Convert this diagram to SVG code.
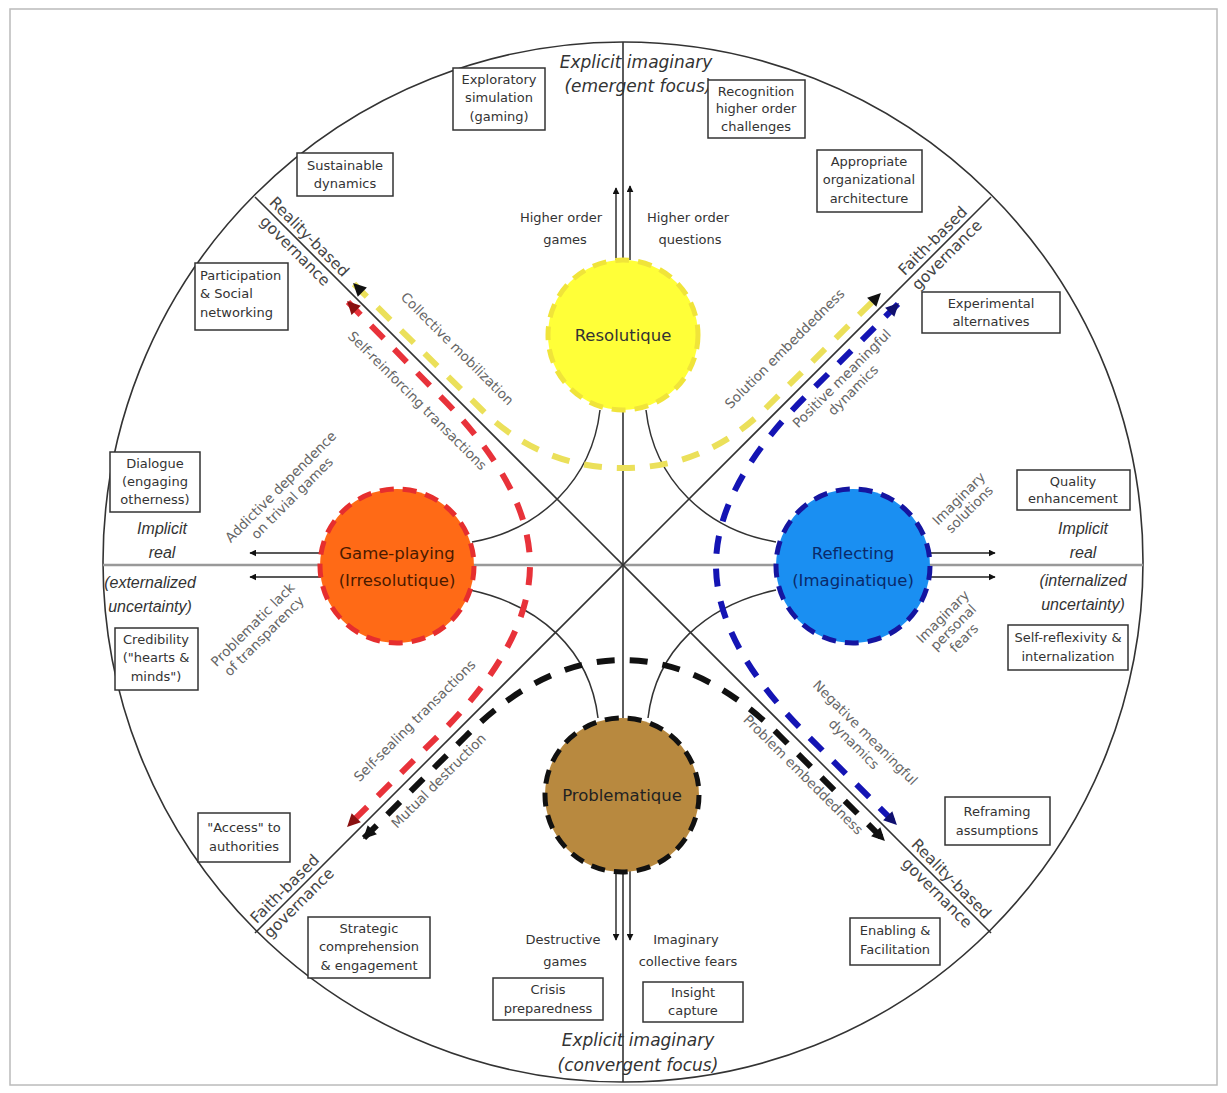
<svg xmlns="http://www.w3.org/2000/svg" width="1227" height="1093" viewBox="0 0 1227 1093">
<style>
.ax{stroke:#333;stroke-width:1.6;fill:none}
.hx{stroke:#999;stroke-width:2.6;fill:none}
.cv{stroke:#333;stroke-width:1.5;fill:none}
.sa{stroke:#222;stroke-width:1.4;fill:none}
.dy{stroke:#ebe05a;stroke-width:6;fill:none;stroke-dasharray:18 15}
.dr{stroke:#e8323a;stroke-width:6;fill:none;stroke-dasharray:18 15}
.db{stroke:#1414b4;stroke-width:6;fill:none;stroke-dasharray:18 15}
.dk{stroke:#111;stroke-width:6;fill:none;stroke-dasharray:18 15}
.box rect{fill:#fff;stroke:#333;stroke-width:1.5}
.box text,.bt{font-family:"DejaVu Sans","Liberation Sans",sans-serif;font-size:13px;fill:#333;text-anchor:middle}
.it{font-family:"Liberation Sans",Arial,sans-serif;font-style:italic;font-size:16px;fill:#333;text-anchor:middle}
.ex{font-family:"DejaVu Sans","Liberation Sans",sans-serif;font-style:italic;font-size:17px;fill:#333;text-anchor:middle}
.dg{font-family:"DejaVu Sans","Liberation Sans",sans-serif;font-size:15.5px;fill:#444;text-anchor:middle}
.al{font-family:"DejaVu Sans","Liberation Sans",sans-serif;font-size:13.5px;fill:#666;text-anchor:middle}
.nl{font-family:"DejaVu Sans","Liberation Sans",sans-serif;font-size:16.5px;text-anchor:middle}
</style>
<defs>
<marker id="mk" viewBox="0 0 10 10" refX="9" refY="5" markerWidth="14" markerHeight="13" markerUnits="userSpaceOnUse" orient="auto-start-reverse"><path d="M0,0 L10,5 L0,10 z" fill="#111"/></marker>
<marker id="mr" viewBox="0 0 10 10" refX="9" refY="5" markerWidth="14" markerHeight="13" markerUnits="userSpaceOnUse" orient="auto-start-reverse"><path d="M0,0 L10,5 L0,10 z" fill="#8a1010"/></marker>
<marker id="mb" viewBox="0 0 10 10" refX="9" refY="5" markerWidth="14" markerHeight="13" markerUnits="userSpaceOnUse" orient="auto-start-reverse"><path d="M0,0 L10,5 L0,10 z" fill="#101070"/></marker>
<marker id="ms" viewBox="0 0 10 10" refX="9" refY="5" markerWidth="7" markerHeight="7" markerUnits="userSpaceOnUse" orient="auto"><path d="M0,0 L10,5 L0,10 z" fill="#111"/></marker>
</defs>
<rect x="0" y="0" width="1227" height="1093" fill="#fff"/>
<rect x="10" y="9" width="1207" height="1076" fill="none" stroke="#bbb" stroke-width="1.5"/>
<g id="frame">
<circle cx="623" cy="562" r="520" class="ax"/>
<line x1="623" y1="42" x2="623" y2="1082" class="ax"/>
<line x1="103" y1="565" x2="1143" y2="565" class="hx"/>
<line x1="255" y1="197" x2="991" y2="933" class="ax"/>
<line x1="991" y1="197" x2="255" y2="933" class="ax"/>
</g>
<g id="connectors">
<path class="cv" d="M600,410 C592,480 540,530 472,542"/>
<path class="cv" d="M646,410 C654,480 706,530 776,542"/>
<path class="cv" d="M470,590 C540,605 590,650 598,718"/>
<path class="cv" d="M776,590 C706,605 656,650 648,718"/>
<path class="dy" d="M354,284 L480,408 Q540,468 623,468 Q706,468 766,408 L880,294" marker-start="url(#mk)" marker-end="url(#mk)"/>
<path class="dr" d="M348,302 L440,396 Q530,486 530,565 Q530,644 440,734 L348,826" marker-start="url(#mr)" marker-end="url(#mr)"/>
<path class="db" d="M898,304 L806,396 Q716,486 716,565 Q716,644 806,734 L896,824" marker-start="url(#mb)" marker-end="url(#mb)"/>
<path class="dk" d="M364,838 L466,736 Q542,660 623,660 Q704,660 780,736 L884,840" marker-start="url(#mk)" marker-end="url(#mk)"/>
<line class="sa" x1="616" y1="260" x2="616" y2="188" marker-end="url(#ms)"/>
<line class="sa" x1="630" y1="260" x2="630" y2="186" marker-end="url(#ms)"/>
<line class="sa" x1="616" y1="870" x2="616" y2="940" marker-end="url(#ms)"/>
<line class="sa" x1="630" y1="870" x2="630" y2="940" marker-end="url(#ms)"/>
<line class="sa" x1="322" y1="553" x2="250" y2="553" marker-end="url(#ms)"/>
<line class="sa" x1="322" y1="577" x2="250" y2="577" marker-end="url(#ms)"/>
<line class="sa" x1="928" y1="553" x2="995" y2="553" marker-end="url(#ms)"/>
<line class="sa" x1="928" y1="577" x2="995" y2="577" marker-end="url(#ms)"/>
</g>
<g id="resolutique">
<circle cx="623" cy="335" r="75" fill="#ffff38" stroke="#f0e43a" stroke-width="5" stroke-dasharray="14 9"/>
<text class="nl" x="623" y="341" fill="#333">Resolutique</text>
</g>
<g id="game-playing">
<circle cx="397" cy="566" r="77" fill="#ff6a16" stroke="#e62e2e" stroke-width="5" stroke-dasharray="14 9"/>
<text class="nl" x="397" y="559" fill="#4a1a00">Game-playing</text>
<text class="nl" x="397" y="586" fill="#4a1a00">(Irresolutique)</text>
</g>
<g id="reflecting">
<circle cx="853" cy="566" r="77" fill="#1a8ff2" stroke="#1515a0" stroke-width="5" stroke-dasharray="14 9"/>
<text class="nl" x="853" y="559" fill="#0a2a6a">Reflecting</text>
<text class="nl" x="853" y="586" fill="#0a2a6a">(Imaginatique)</text>
</g>
<g id="problematique">
<circle cx="622" cy="795" r="77" fill="#b8893f" stroke="#111" stroke-width="5" stroke-dasharray="14 9"/>
<text class="nl" x="622" y="801" fill="#222">Problematique</text>
</g>
<g id="axis-labels">
<text class="ex" x="636" y="68">Explicit imaginary</text>
<text class="ex" x="638" y="92">(emergent focus)</text>
<text class="ex" x="638" y="1046">Explicit imaginary</text>
<text class="ex" x="638" y="1071">(convergent focus)</text>
<text class="it" x="162" y="534">Implicit</text>
<text class="it" x="162" y="558">real</text>
<text class="it" x="150" y="588">(externalized</text>
<text class="it" x="150" y="612">uncertainty)</text>
<text class="it" x="1083" y="534">Implicit</text>
<text class="it" x="1083" y="558">real</text>
<text class="it" x="1083" y="586">(internalized</text>
<text class="it" x="1083" y="610">uncertainty)</text>
<g transform="translate(302,244) rotate(45)"><text class="dg" y="-5">Reality-based</text><text class="dg" y="15">governance</text></g>
<g transform="translate(940,248) rotate(-45)"><text class="dg" y="-5">Faith-based</text><text class="dg" y="15">governance</text></g>
<g transform="translate(292,896) rotate(-45)"><text class="dg" y="-5">Faith-based</text><text class="dg" y="15">governance</text></g>
<g transform="translate(944,886) rotate(45)"><text class="dg" y="-5">Reality-based</text><text class="dg" y="15">governance</text></g>
</g>
<g id="arrow-labels">
<g transform="translate(454,352) rotate(45)"><text class="al">Collective mobilization</text></g>
<g transform="translate(414,404) rotate(45)"><text class="al">Self-reinforcing transactions</text></g>
<g transform="translate(788,352) rotate(-45)"><text class="al">Solution embeddedness</text></g>
<g transform="translate(845,382) rotate(-45)"><text class="al">Positive meaningful</text><text class="al" y="16">dynamics</text></g>
<g transform="translate(284,490) rotate(-45)"><text class="al">Addictive dependence</text><text class="al" y="16">on trivial games</text></g>
<g transform="translate(256,628) rotate(-45)"><text class="al">Problematic lack</text><text class="al" y="16">of transparency</text></g>
<g transform="translate(418,724) rotate(-45)"><text class="al">Self-sealing transactions</text></g>
<g transform="translate(442,784) rotate(-45)"><text class="al">Mutual destruction</text></g>
<g transform="translate(862,736) rotate(45)"><text class="al">Negative meaningful</text><text class="al" y="16">dynamics</text></g>
<g transform="translate(800,778) rotate(45)"><text class="al">Problem embeddedness</text></g>
<g transform="translate(962,502) rotate(-45)"><text class="al">Imaginary</text><text class="al" y="15">solutions</text></g>
<g transform="translate(946,620) rotate(-45)"><text class="al">Imaginary</text><text class="al" y="15">personal</text><text class="al" y="30">fears</text></g>
<text class="bt" x="561" y="222" fill="#555">Higher order</text>
<text class="bt" x="565" y="244" fill="#555">games</text>
<text class="bt" x="688" y="222" fill="#555">Higher order</text>
<text class="bt" x="690" y="244" fill="#555">questions</text>
<text class="bt" x="563" y="944" fill="#555">Destructive</text>
<text class="bt" x="565" y="966" fill="#555">games</text>
<text class="bt" x="686" y="944" fill="#555">Imaginary</text>
<text class="bt" x="688" y="966" fill="#555">collective fears</text>
</g>
<g id="box-exploratory" class="box"><rect x="453" y="68" width="92" height="62"/><text x="499" y="84">Exploratory</text><text x="499" y="102">simulation</text><text x="499" y="121">(gaming)</text></g>
<g id="box-recognition" class="box"><rect x="708" y="80" width="97" height="58"/><text x="756" y="96">Recognition</text><text x="756" y="113">higher order</text><text x="756" y="131">challenges</text></g>
<g id="box-sustainable" class="box"><rect x="297" y="153" width="96" height="43"/><text x="345" y="170">Sustainable</text><text x="345" y="188">dynamics</text></g>
<g id="box-appropriate" class="box"><rect x="817" y="150" width="105" height="62"/><text x="869" y="166">Appropriate</text><text x="869" y="184">organizational</text><text x="869" y="203">architecture</text></g>
<g id="box-participation" class="box"><rect x="195" y="263" width="93" height="67"/><text x="200" y="280" style="text-anchor:start">Participation</text><text x="200" y="298" style="text-anchor:start">&amp; Social</text><text x="200" y="317" style="text-anchor:start">networking</text></g>
<g id="box-experimental" class="box"><rect x="922" y="292" width="138" height="41"/><text x="991" y="308">Experimental</text><text x="991" y="326">alternatives</text></g>
<g id="box-dialogue" class="box"><rect x="110" y="452" width="90" height="60"/><text x="155" y="468">Dialogue</text><text x="155" y="486">(engaging</text><text x="155" y="504">otherness)</text></g>
<g id="box-quality" class="box"><rect x="1017" y="470" width="113" height="40"/><text x="1073" y="486">Quality</text><text x="1073" y="503">enhancement</text></g>
<g id="box-credibility" class="box"><rect x="115" y="628" width="83" height="62"/><text x="156" y="644">Credibility</text><text x="156" y="662">("hearts &amp;</text><text x="156" y="681">minds")</text></g>
<g id="box-selfreflexivity" class="box"><rect x="1008" y="625" width="120" height="45"/><text x="1068" y="642">Self-reflexivity &amp;</text><text x="1068" y="661">internalization</text></g>
<g id="box-access" class="box"><rect x="198" y="813" width="92" height="49"/><text x="244" y="832">"Access" to</text><text x="244" y="851">authorities</text></g>
<g id="box-reframing" class="box"><rect x="945" y="797" width="105" height="48"/><text x="997" y="816">Reframing</text><text x="997" y="835">assumptions</text></g>
<g id="box-strategic" class="box"><rect x="308" y="917" width="122" height="61"/><text x="369" y="933">Strategic</text><text x="369" y="951">comprehension</text><text x="369" y="970">&amp; engagement</text></g>
<g id="box-enabling" class="box"><rect x="850" y="918" width="90" height="47"/><text x="895" y="935">Enabling &amp;</text><text x="895" y="954">Facilitation</text></g>
<g id="box-crisis" class="box"><rect x="493" y="978" width="110" height="42"/><text x="548" y="994">Crisis</text><text x="548" y="1013">preparedness</text></g>
<g id="box-insight" class="box"><rect x="643" y="982" width="100" height="40"/><text x="693" y="997">Insight</text><text x="693" y="1015">capture</text></g>
</svg>
